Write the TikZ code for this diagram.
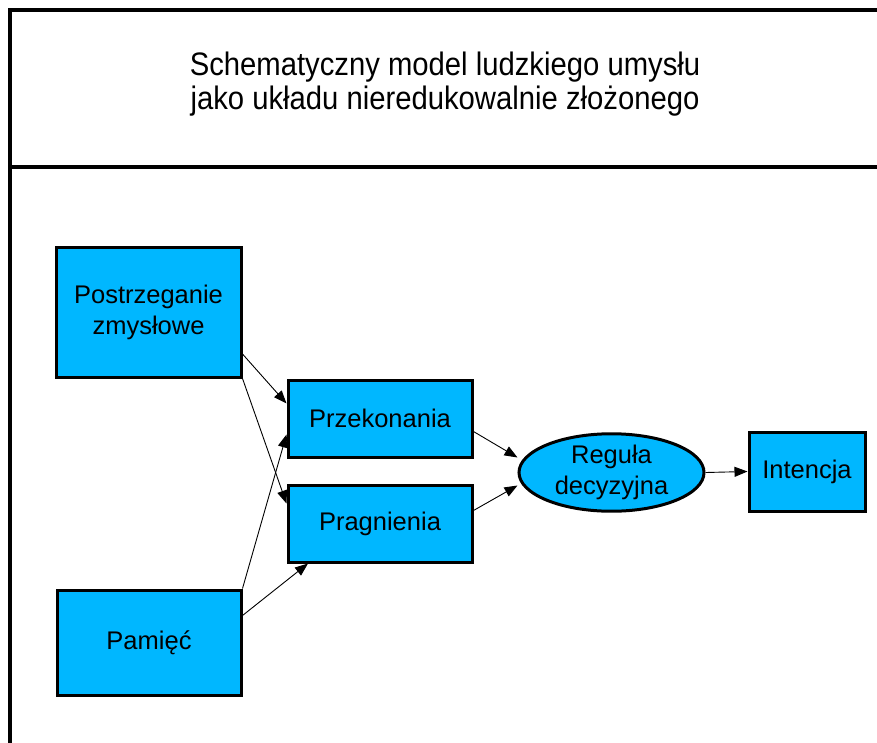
\documentclass[tikz,border=0pt]{standalone}
\usepackage{fontspec}
\setmainfont{Liberation Sans}
\newfontfamily\titlefont[FakeStretch=0.9]{Liberation Sans}
\usetikzlibrary{arrows.meta,shapes.geometric,calc}
\definecolor{boxblue}{RGB}{0,183,255}
\begin{document}
\begin{tikzpicture}[x=1pt,y=-1pt,
  box/.style={draw=black,line width=3pt,fill=boxblue,inner sep=0pt,align=center,
    font=\fontsize{25.5}{31}\selectfont},
  conn/.style={line width=0.9pt,-{Triangle[length=13pt,width=10pt]}},
  frame/.style={line width=4pt,draw=black}]
\useasboundingbox (0,0) rectangle (877,742);
\clip (0,0) rectangle (877,742);
% frame
\draw[frame] (890,9.5) -- (10,9.5) -- (10,760);
\draw[frame] (10,167) -- (890,167);
% title
\node[font=\titlefont\fontsize{32.5}{34}\selectfont,align=center,inner sep=0pt] (title) at (445,84)
  {Schematyczny model ludzkiego umysłu\\jako układu nieredukowalnie złożonego};
% nodes
\node[box,minimum width=185pt,minimum height=130pt] (post) at (148.5,312) {Postrzeganie\\zmysłowe};
\node[box,minimum width=184pt,minimum height=77pt] (przek) at (380,418.5) {Przekonania};
\node[box,minimum width=184pt,minimum height=77pt] (prag) at (380,523.5) {Pragnienia};
\node[box,minimum width=184pt,minimum height=105pt] (pam) at (149,642.5) {Pamięć};
\node[box,ellipse,minimum width=185pt,minimum height=77pt] (reg) at (611.5,472.5) {Reguła\\decyzyjna};
\node[box,minimum width=116pt,minimum height=79pt] (int) at (807,471.5) {Intencja};
% connectors
\draw[conn] ([yshift=-42pt]post.east) -- ([yshift=15pt]przek.west);
\draw[conn] (post.south east) -- ([yshift=20pt]prag.west);
\draw[conn] (pam.north east) -- ([yshift=-16pt]przek.west);
\draw[conn] ([yshift=27pt]pam.east) -- ([xshift=-72pt]prag.south);
\draw[conn] ([yshift=-13pt]przek.east) -- ([yshift=15pt]reg.west);
\draw[conn] ([yshift=13pt]prag.east) -- ([yshift=-13pt]reg.west);
\draw[conn] (reg.east) -- (int.west);
\end{tikzpicture}
\end{document}
